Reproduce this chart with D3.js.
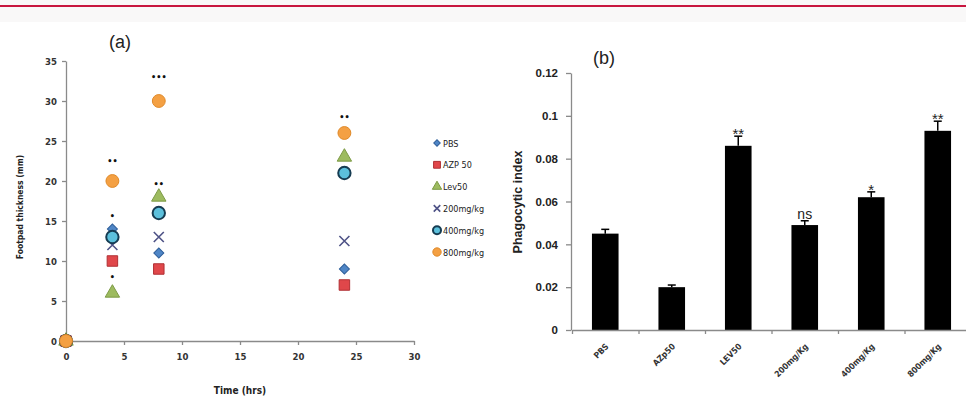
<!DOCTYPE html>
<html><head><meta charset="utf-8">
<script src="https://cdn.jsdelivr.net/npm/d3@7"></script>
<style>
html,body{margin:0;padding:0;background:#fff;}
svg{display:block;}
text{font-family:"DejaVu Sans Condensed","DejaVu Sans",sans-serif;}
</style></head>
<body>
<svg id="c" width="966" height="398"></svg>
<script>
// ---- data (a) ----
const timePoints = [0, 4, 8, 24];
const seriesNames = ["PBS", "AZP 50", "Lev50", "200mg/kg", "400mg/kg", "800mg/kg"];
const pbsValues = [0, 14, 11, 9];
const azpValues = [0, 10, 9, 7];
const levValues = [0, 6, 18, 23];
const mg200Values = [0, 12, 13, 12.5];
const mg400Values = [0, 13, 16, 21];
const mg800Values = [0, 20, 30, 26];
const xTicksA = [0, 5, 10, 15, 20, 25, 30];
const yTicksA = [0, 5, 10, 15, 20, 25, 30, 35];
// significance markers: [time, yValue, label]
const sigA = [[4, 22.5, "••"], [4, 15.6, "•"], [4, 8, "•"], [8, 33, "•••"], [8, 19.6, "••"], [24, 28, "••"]];

// ---- data (b) ----
const groups = ["PBS", "AZp50", "LEV50", "200mg/Kg", "400mg/Kg", "800mg/Kg"];
const phagoIndex = [0.045, 0.020, 0.086, 0.049, 0.062, 0.093];
const phagoErr = [0.002, 0.001, 0.0045, 0.002, 0.0025, 0.0045];
const sigB = ["", "", "**", "ns", "*", "**"];
const yTicksB = [0, 0.02, 0.04, 0.06, 0.08, 0.1, 0.12];

const svg = d3.select("#c");
// header strip
svg.append("rect").attr("x",0).attr("y",0).attr("width",966).attr("height",22).attr("fill","#f9f8f8");
svg.append("rect").attr("x",0).attr("y",5).attr("width",966).attr("height",2).attr("fill","#c8163f");

const axisCol = "#8a8a8a";

// ================= chart (a) =================
const xA = d3.scaleLinear().domain([0, 30]).range([66, 414]);
const yA = d3.scaleLinear().domain([0, 35]).range([341, 61]);
const gA = svg.append("g");

const axA = gA.append("g").attr("transform","translate(0,341)")
  .call(d3.axisBottom(xA).tickValues(xTicksA).tickSize(4).tickSizeOuter(0));
const ayA = gA.append("g").attr("transform","translate(66,0)")
  .call(d3.axisLeft(yA).tickValues(yTicksA).tickSize(4).tickSizeOuter(0));
[axA, ayA].forEach(a=>{
  a.selectAll("path,line").attr("stroke",axisCol).attr("stroke-width",1.3);
  a.selectAll("text").attr("fill","#333").attr("font-size","9.5px").attr("font-weight","bold");
});
axA.selectAll("text").attr("dy","1.3em");
ayA.selectAll("text").attr("dx","-2");

gA.append("text").attr("x",120).attr("y",48).attr("font-size","18px").attr("text-anchor","middle")
  .attr("fill","#222").style("font-family","Liberation Sans, sans-serif").text("(a)");
gA.append("text").attr("x",240).attr("y",394).attr("font-size","10px").attr("font-weight","bold")
  .attr("text-anchor","middle").attr("fill","#222").text("Time (hrs)");
gA.append("text").attr("transform","translate(23,207) rotate(-90)").attr("font-size","8.5px")
  .attr("font-weight","bold").attr("text-anchor","middle").attr("fill","#222").text("Footpad thickness (mm)");

const seriesVals = [pbsValues, azpValues, levValues, mg200Values, mg400Values, mg800Values];
const styles = [
  {sym:d3.symbolSquare, rot:45, size:50, fill:"#4f86c6", stroke:"#2f5f9a"},
  {sym:d3.symbolSquare, size:110, fill:"#e0474a", stroke:"#b03034"},
  {sym:d3.symbolTriangle, size:90, fill:"#9dbb5f", stroke:"#7c9a45"},
  {sym:"x", fill:"none", stroke:"#4e5286"},
  {sym:d3.symbolCircle, size:120, fill:"#5cc0dc", stroke:"#163c52", sw:2},
  {sym:d3.symbolCircle, size:130, fill:"#f4a043", stroke:"#e08a2a"}
];
function drawMarker(g, st, x, y, scale=1){
  if (st.sym === "x"){
    const s = 5*scale;
    g.append("path").attr("d",`M${x-s},${y-s}L${x+s},${y+s}M${x-s},${y+s}L${x+s},${y-s}`)
      .attr("stroke",st.stroke).attr("stroke-width",1.6).attr("fill","none");
  } else {
    g.append("path").attr("d", d3.symbol().type(st.sym).size(st.size*scale*scale)())
      .attr("transform",`translate(${x},${y}) rotate(${st.rot||0})`)
      .attr("fill",st.fill).attr("stroke",st.stroke).attr("stroke-width",st.sw||1);
  }
}
const ptsG = gA.append("g");
seriesVals.forEach((vals,i)=>{
  vals.forEach((v,j)=>{
    drawMarker(ptsG, styles[i], xA(timePoints[j]), yA(v));
  });
});
sigA.forEach(s=>{
  gA.append("text").attr("x",xA(s[0])).attr("y",yA(s[1])+3).attr("text-anchor","middle")
    .attr("font-size","9px").attr("font-weight","bold").attr("fill","#111").text(s[2]);
});
// legend
const legA = gA.append("g");
seriesNames.forEach((n,i)=>{
  const y = 143 + i*21.8;
  drawMarker(legA, styles[i], 437, y, 0.65);
  legA.append("text").attr("x",443).attr("y",y+3.5).attr("font-size","9px").attr("fill","#222").text(n);
});

// ================= chart (b) =================
const xB = d3.scaleBand().domain(groups).range([572, 971]).paddingInner(0.6).paddingOuter(0.3);
const yB = d3.scaleLinear().domain([0, 0.12]).range([330, 73]);
const gB = svg.append("g");

gB.append("text").attr("x",604).attr("y",64).attr("font-size","18px").attr("text-anchor","middle")
  .attr("fill","#222").style("font-family","Liberation Sans, sans-serif").text("(b)");

// bars
gB.selectAll("rect.bar").data(groups).join("rect").attr("class","bar")
  .attr("x",d=>xB(d)).attr("width",xB.bandwidth())
  .attr("y",(d,i)=>yB(phagoIndex[i])).attr("height",(d,i)=>yB(0)-yB(phagoIndex[i]))
  .attr("fill","#000");
// error bars
groups.forEach((d,i)=>{
  const cx = xB(d)+xB.bandwidth()/2;
  const yt = yB(phagoIndex[i]+phagoErr[i]);
  gB.append("line").attr("x1",cx).attr("x2",cx).attr("y1",yB(phagoIndex[i])).attr("y2",yt)
    .attr("stroke","#000").attr("stroke-width",1.5);
  gB.append("line").attr("x1",cx-4).attr("x2",cx+4).attr("y1",yt).attr("y2",yt)
    .attr("stroke","#000").attr("stroke-width",1.5);
  if (sigB[i]) {
    const isNs = sigB[i]==="ns";
    gB.append("text").attr("x",cx).attr("y",yt+(isNs?-2:3))
      .attr("text-anchor","middle").attr("font-size",isNs?"14px":"15px").attr("fill","#222")
      .style("font-family","Liberation Sans, sans-serif").text(sigB[i]);
  }
});

const axB = gB.append("g").attr("transform","translate(0,330)")
  .call(d3.axisBottom(d3.scaleLinear().domain([0,6]).range([572,971])).tickValues([0,1,2,3,4,5,6]).tickFormat("").tickSize(4).tickSizeOuter(0));
axB.selectAll("path,line").attr("stroke",axisCol).attr("stroke-width",1.3);
const ayB = gB.append("g").attr("transform","translate(571,0)")
  .call(d3.axisLeft(yB).tickValues(yTicksB).tickFormat(d=>d3.format("")(+d.toFixed(2))).tickSize(5).tickSizeOuter(0));
ayB.selectAll("path,line").attr("stroke",axisCol).attr("stroke-width",1.3);
ayB.selectAll("text").attr("fill","#222").attr("font-size","11.5px").attr("font-weight","bold")
  .attr("dx","-5").style("font-family","Liberation Sans, sans-serif");

groups.forEach(d=>{
  const cx = xB(d)+xB.bandwidth()/2;
  gB.append("text").attr("transform",`translate(${cx+4},${347}) rotate(-45)`)
    .attr("text-anchor","end").attr("font-size","8.5px").attr("font-weight","bold").attr("fill","#333").text(d);
});

gB.append("text").attr("transform","translate(522,202) rotate(-90)").attr("font-size","12.5px")
  .attr("font-weight","bold").attr("text-anchor","middle").attr("fill","#222")
  .style("font-family","Liberation Sans, sans-serif").text("Phagocytic index");
</script>
</body></html>
